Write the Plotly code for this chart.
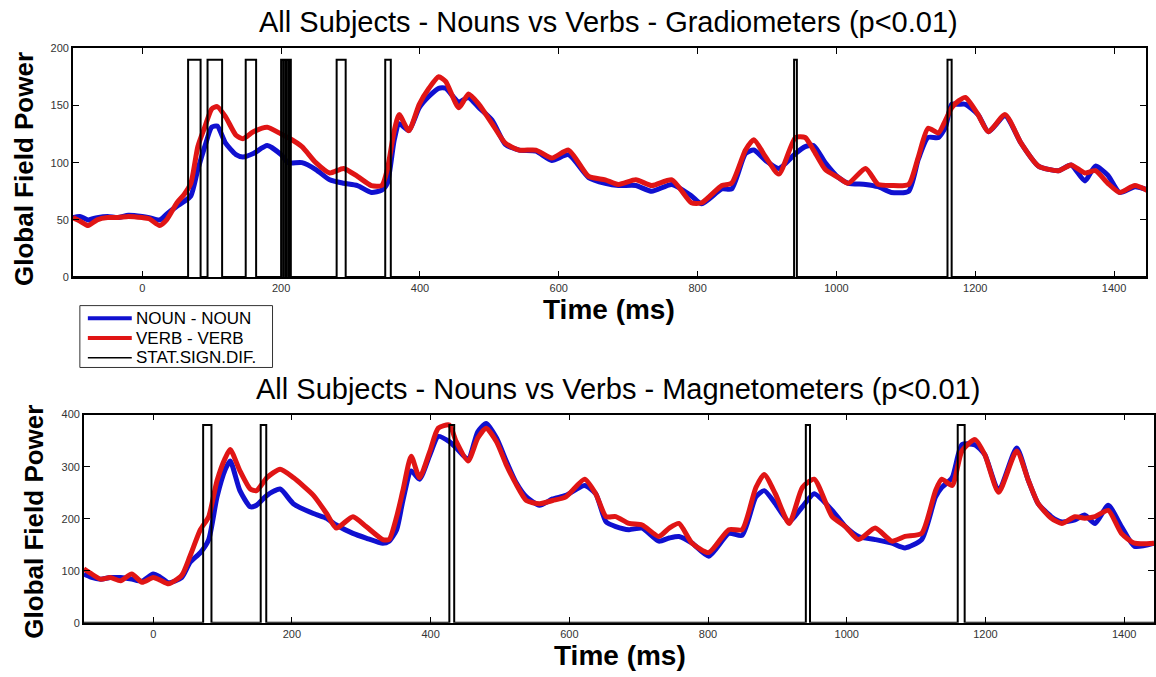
import plotly.graph_objects as go

# ---------------- data: gradiometers (top panel) ----------------
grad_time = [-100, -90, -78, -65, -50, -35, -20, 0, 10, 25, 35, 50, 60, 70, 80, 90, 100, 108,
             120, 135, 145, 160, 180, 200, 210, 230, 250, 270, 290, 310, 330, 345, 353, 363,
             370, 384, 399, 413, 427, 437, 456, 470, 485, 504, 523, 543, 567, 590, 614, 643,
             667, 686, 711, 734, 763, 791, 806, 835, 849, 869, 881, 898, 917, 941, 955, 967,
             984, 1003, 1017, 1042, 1060, 1079, 1104, 1118, 1132, 1147, 1157, 1166, 1176, 1186,
             1204, 1219, 1243, 1266, 1291, 1320, 1338, 1358, 1373, 1391, 1408, 1430, 1450]
grad_noun = [52, 53, 50, 52, 53, 52, 54, 53, 52, 50, 55, 62, 66, 71, 94, 114, 131, 132,
             117, 107, 105, 108, 115, 107, 100, 100, 94, 85, 82, 80, 74, 76, 82, 120,
             134, 128, 148, 158, 165, 165, 153, 157, 148, 137, 116, 111, 110, 102, 107, 87,
             82, 80, 80, 75, 81, 71, 64, 77, 77, 108, 111, 102, 95, 108, 114, 115,
             100, 87, 82, 81, 79, 74, 75, 103, 122, 122, 131, 151, 151, 151,
             142, 127, 141, 117, 97, 93, 98, 84, 97, 89, 74, 79, 76]
grad_verb = [52, 49, 45, 50, 52, 52, 53, 52, 51, 45, 50, 65, 72, 82, 114, 131, 147, 149,
             140, 124, 121, 127, 131, 125, 122, 114, 100, 91, 95, 88, 80, 80, 94, 128,
             142, 128, 151, 165, 175, 171, 148, 160, 151, 134, 117, 111, 111, 104, 111, 88,
             85, 81, 85, 80, 85, 65, 65, 80, 82, 111, 120, 105, 90, 122, 122, 111,
             94, 87, 82, 95, 81, 80, 81, 105, 130, 126, 137, 148, 154, 157,
             142, 127, 142, 117, 97, 93, 98, 91, 93, 82, 74, 80, 75]
grad_sig = [(66, 84), (94, 115), (149, 164), (200, 203), (204, 207), (208, 211), (212, 214),
            (280, 293), (350, 358), (939, 943), (1160, 1166)]
grad_sig_level = 190

# ---------------- data: magnetometers (bottom panel) ----------------
mag_time = [-100, -90, -76, -62, -47, -31, -16, 0, 10, 22, 41, 53, 68, 80, 92, 104, 111,
            125, 140, 149, 164, 183, 202, 231, 250, 264, 288, 307, 331, 340, 351, 360, 372,
            384, 399, 411, 427, 437, 454, 468, 480, 495, 509, 523, 538, 557, 576, 595, 622,
            638, 653, 667, 686, 705, 729, 744, 758, 777, 801, 830, 849, 869, 881, 897, 917,
            936, 953, 979, 998, 1017, 1041, 1065, 1084, 1108, 1128, 1137, 1152, 1166, 1185,
            1199, 1219, 1245, 1262, 1276, 1295, 1310, 1329, 1343, 1358, 1377, 1396, 1415, 1443]
mag_noun = [94, 88, 84, 87, 87, 84, 80, 94, 88, 77, 87, 116, 135, 160, 242, 295, 311,
            254, 223, 226, 245, 257, 229, 210, 201, 188, 172, 163, 153, 157, 179, 235, 292,
            276, 323, 358, 348, 336, 314, 367, 383, 355, 311, 270, 242, 226, 238, 245, 264,
            248, 194, 185, 179, 182, 157, 163, 166, 153, 128, 172, 168, 242, 254, 229, 194,
            223, 248, 216, 185, 166, 160, 153, 144, 160, 242, 260, 279, 342, 342,
            323, 254, 336, 273, 229, 204, 194, 198, 207, 191, 226, 185, 147, 153]
mag_verb = [104, 95, 84, 87, 81, 94, 78, 87, 82, 75, 91, 128, 179, 204, 273, 317, 333,
            292, 257, 254, 279, 295, 279, 245, 210, 182, 204, 185, 160, 160, 204, 254, 320,
            279, 330, 374, 380, 348, 311, 355, 374, 348, 304, 267, 235, 229, 235, 242, 276,
            248, 204, 204, 191, 188, 166, 182, 191, 153, 135, 179, 179, 260, 285, 248, 191,
            260, 276, 204, 185, 160, 182, 157, 166, 172, 254, 276, 264, 330, 352,
            323, 251, 330, 273, 229, 201, 191, 204, 201, 204, 216, 172, 153, 153]
mag_sig = [(72, 84), (155, 163), (427, 434), (941, 947), (1160, 1170)]
mag_sig_level = 380

# ---------------- text / ticks ----------------
title_grad = "All Subjects - Nouns vs Verbs - Gradiometers (p<0.01)"
title_mag = "All Subjects - Nouns vs Verbs - Magnetometers (p<0.01)"
x_label = "Time (ms)"
y_label = "Global Field Power"
legend_names = ["NOUN - NOUN", "VERB - VERB", "STAT.SIGN.DIF."]
x_ticks = [0, 200, 400, 600, 800, 1000, 1200, 1400]
grad_yticks = [0, 50, 100, 150, 200]
mag_yticks = [0, 100, 200, 300, 400]

W, H = 1156, 677


def step_trace(intervals, level, t0, t1):
    xs, ys = [t0], [0]
    for a, b in intervals:
        xs += [a, a, b, b]
        ys += [0, level, level, 0]
    xs.append(t1)
    ys.append(0)
    return xs, ys


def dom_x(a, b):
    return [a / W, b / W]


def dom_y(top, bottom):
    return [1 - bottom / H, 1 - top / H]


def px(x):
    return x / W


def py(y):
    return 1 - y / H


BLUE = "#1010d0"
RED = "#e01515"
FONT = "Liberation Sans, Arial, sans-serif"
series_colors = [BLUE, RED, "black"]
series_widths = [5, 5, 2]
legend_widths = [4, 4, 1.5]

fig = go.Figure()

# top panel
fig.add_trace(go.Scatter(x=grad_time, y=grad_noun, mode="lines", name=legend_names[0],
                         line=dict(color=BLUE, width=5, shape="spline", smoothing=0.6),
                         xaxis="x", yaxis="y"))
fig.add_trace(go.Scatter(x=grad_time, y=grad_verb, mode="lines", name=legend_names[1],
                         line=dict(color=RED, width=5, shape="spline", smoothing=0.6),
                         xaxis="x", yaxis="y"))
sx, sy = step_trace(grad_sig, grad_sig_level, -100, 1450)
fig.add_trace(go.Scatter(x=sx, y=sy, mode="lines", name=legend_names[2],
                         line=dict(color="black", width=2),
                         xaxis="x", yaxis="y"))

# bottom panel
fig.add_trace(go.Scatter(x=mag_time, y=mag_noun, mode="lines", name=legend_names[0],
                         line=dict(color=BLUE, width=5, shape="spline", smoothing=0.6),
                         xaxis="x2", yaxis="y2"))
fig.add_trace(go.Scatter(x=mag_time, y=mag_verb, mode="lines", name=legend_names[1],
                         line=dict(color=RED, width=5, shape="spline", smoothing=0.6),
                         xaxis="x2", yaxis="y2"))
sx, sy = step_trace(mag_sig, mag_sig_level, -100, 1450)
fig.add_trace(go.Scatter(x=sx, y=sy, mode="lines", name=legend_names[2],
                         line=dict(color="black", width=2),
                         xaxis="x2", yaxis="y2"))

axis_common = dict(showgrid=False, zeroline=False, showline=True, linecolor="black",
                   linewidth=1.5, mirror="ticks", ticks="inside", ticklen=6,
                   tickcolor="black", tickwidth=1,
                   tickfont=dict(family=FONT, size=11, color="#333333"))

fig.update_layout(
    width=W, height=H,
    margin=dict(l=0, r=0, t=0, b=0),
    paper_bgcolor="white", plot_bgcolor="white",
    showlegend=False,
    xaxis=dict(domain=dom_x(73, 1148), range=[-100, 1446], tickvals=x_ticks,
               anchor="y", **axis_common),
    yaxis=dict(domain=dom_y(43, 276), range=[0, 200], tickvals=grad_yticks,
               anchor="x", **axis_common),
    xaxis2=dict(domain=dom_x(84, 1156), range=[-100, 1443], tickvals=x_ticks,
                anchor="y2", **axis_common),
    yaxis2=dict(domain=dom_y(416, 628), range=[0, 400], tickvals=mag_yticks,
                anchor="x2", **axis_common),
)

# ---- MATLAB-style legend box (drawn in paper coordinates) ----
shapes = [dict(type="rect", xref="paper", yref="paper",
               x0=px(80), x1=px(273), y0=py(368), y1=py(305),
               line=dict(color="#333333", width=1), fillcolor="white", layer="above")]
ann = []
for i, name in enumerate(legend_names):
    row_y = 318 + 20 * i
    shapes.append(dict(type="line", xref="paper", yref="paper",
                       x0=px(88), x1=px(132), y0=py(row_y), y1=py(row_y),
                       line=dict(color=series_colors[i], width=legend_widths[i]),
                       layer="above"))
    ann.append(dict(text=name, x=px(134), y=py(row_y), xref="paper", yref="paper",
                    showarrow=False, xanchor="left", yanchor="middle",
                    font=dict(family=FONT, size=17, color="black")))

ann.append(dict(text=title_grad, x=px(610), y=py(16), xref="paper", yref="paper",
                showarrow=False, xanchor="center", yanchor="middle",
                font=dict(family=FONT, size=29, color="black")))
ann.append(dict(text=title_mag, x=px(620), y=py(390), xref="paper", yref="paper",
                showarrow=False, xanchor="center", yanchor="middle",
                font=dict(family=FONT, size=29, color="black")))
ann.append(dict(text="<b>%s</b>" % x_label, x=px(610), y=py(309), xref="paper", yref="paper",
                showarrow=False, xanchor="center", yanchor="middle",
                font=dict(family=FONT, size=28, color="black")))
ann.append(dict(text="<b>%s</b>" % x_label, x=px(621), y=py(661), xref="paper", yref="paper",
                showarrow=False, xanchor="center", yanchor="middle",
                font=dict(family=FONT, size=28, color="black")))
ann.append(dict(text="<b>%s</b>" % y_label, x=px(24), y=py(166), xref="paper", yref="paper",
                showarrow=False, xanchor="center", yanchor="middle", textangle=-90,
                font=dict(family=FONT, size=26, color="black")))
ann.append(dict(text="<b>%s</b>" % y_label, x=px(34), y=py(525), xref="paper", yref="paper",
                showarrow=False, xanchor="center", yanchor="middle", textangle=-90,
                font=dict(family=FONT, size=26, color="black")))
fig.update_layout(annotations=ann, shapes=shapes)

fig.write_html("out.html")
